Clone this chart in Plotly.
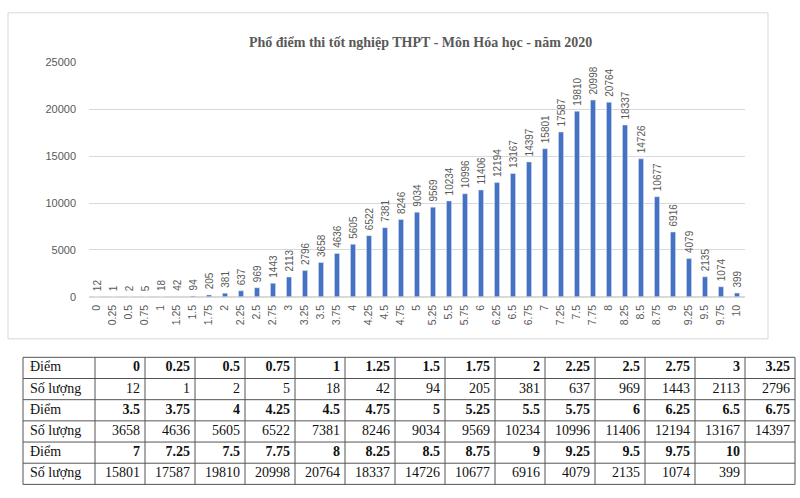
import plotly.graph_objects as go

scores = ["0", "0.25", "0.5", "0.75", "1", "1.25", "1.5", "1.75", "2", "2.25",
          "2.5", "2.75", "3", "3.25", "3.5", "3.75", "4", "4.25", "4.5", "4.75",
          "5", "5.25", "5.5", "5.75", "6", "6.25", "6.5", "6.75", "7", "7.25",
          "7.5", "7.75", "8", "8.25", "8.5", "8.75", "9", "9.25", "9.5", "9.75", "10"]
counts = [12, 1, 2, 5, 18, 42, 94, 205, 381, 637,
          969, 1443, 2113, 2796, 3658, 4636, 5605, 6522, 7381, 8246,
          9034, 9569, 10234, 10996, 11406, 12194, 13167, 14397, 15801, 17587,
          19810, 20998, 20764, 18337, 14726, 10677, 6916, 4079, 2135, 1074, 399]
y_ticks = [0, 5000, 10000, 15000, 20000, 25000]
title = "Phổ điểm thi tốt nghiệp THPT - Môn Hóa học - năm 2020"
row_score = "Điểm"
row_count = "Số lượng"

W, H = 800, 498
def px(x):
    return x / W
def py(y):
    return (H - y) / H

fig = go.Figure()

# a non-breaking space in front of each label leaves a small gap above the bar
fig.add_trace(go.Bar(
    x=scores, y=counts,
    marker_color="#4472C4",
    text=[str(c) for c in counts],
    texttemplate="\u00a0\u00a0%{text}",
    textposition="outside",
    textangle=-90,
    constraintext="none",
    cliponaxis=False,
    textfont=dict(family="Liberation Sans", size=10, color="#595959"),
    hoverinfo="x+y",
))

# ---- table below the chart, drawn on a pixel-unit axis pair ----
per_row = 14
tab_left, lab_w, col_w = 23, 72, 50
tab_top, row_h = 360, 21.7
col_edges = [tab_left, tab_left + lab_w] + [tab_left + lab_w + col_w * (k + 1) for k in range(per_row)]
n_rows = 2 * ((len(scores) + per_row - 1) // per_row)
row_edges = [tab_top + row_h * r for r in range(n_rows + 1)]

lab_x, lab_y, lab_t = [], [], []
val_x, val_y, val_t = [], [], []
for r in range(n_rows):
    block = r // 2
    is_score = r % 2 == 0
    lab_x.append(col_edges[0] + 7)
    lab_y.append((row_edges[r] + row_edges[r + 1]) / 2)
    lab_t.append(row_score if is_score else row_count)
    for j in range(per_row):
        i = block * per_row + j
        if i >= len(scores):
            continue
        val_x.append(col_edges[j + 2] - 5)
        val_y.append((row_edges[r] + row_edges[r + 1]) / 2)
        val_t.append("<b>%s</b>" % scores[i] if is_score else str(counts[i]))

tfont = dict(family="Liberation Serif", size=14, color="#111111")
fig.add_trace(go.Scatter(x=lab_x, y=lab_y, text=lab_t, mode="text",
                         textposition="middle right", textfont=tfont,
                         xaxis="x2", yaxis="y2", hoverinfo="skip"))
fig.add_trace(go.Scatter(x=val_x, y=val_y, text=val_t, mode="text",
                         textposition="middle left", textfont=tfont,
                         xaxis="x2", yaxis="y2", hoverinfo="skip"))

grid = dict(color="#555555", width=1)
for yy in row_edges:
    fig.add_shape(type="line", xref="x2", yref="y2", x0=col_edges[0], x1=col_edges[-1],
                  y0=yy, y1=yy, line=grid)
for xx in col_edges:
    fig.add_shape(type="line", xref="x2", yref="y2", x0=xx, x1=xx,
                  y0=row_edges[0], y1=row_edges[-1], line=grid)

# chart frame
fig.add_shape(type="rect", xref="paper", yref="paper",
              x0=px(8), x1=px(768), y0=py(341), y1=py(7),
              line=dict(color="#d9d9d9", width=1), layer="below")

fig.add_annotation(text="<b>%s</b>" % title, xref="paper", yref="paper",
                   x=px(420), y=py(28), showarrow=False,
                   font=dict(family="Liberation Serif", size=14, color="#595959"))

tab_band = 350
fig.update_layout(
    width=W, height=H,
    margin=dict(l=0, r=0, t=0, b=0),
    paper_bgcolor="white", plot_bgcolor="rgba(0,0,0,0)",
    bargap=0.68, showlegend=False,
    xaxis=dict(domain=[px(89), px(745)], type="category", tickangle=-90,
               tickfont=dict(family="Liberation Sans", size=10.5, color="#595959"),
               showgrid=False, showline=False, ticks="", ticklabelstandoff=5),
    yaxis=dict(domain=[py(298), py(58)], range=[0, 25000], tickvals=y_ticks,
               tickformat="d",
               tickfont=dict(family="Liberation Sans", size=11, color="#595959"),
               gridcolor="#d9d9d9", zeroline=True, zerolinecolor="#d9d9d9",
               showline=False, ticks="", ticklabelstandoff=12),
    xaxis2=dict(domain=[0, 1], range=[0, W], visible=False, fixedrange=True),
    yaxis2=dict(domain=[0, py(tab_band)], range=[H, tab_band], visible=False, fixedrange=True),
)

fig.write_html("out.html", config={"displayModeBar": False},
               post_script="document.body.style.margin='0px';")
